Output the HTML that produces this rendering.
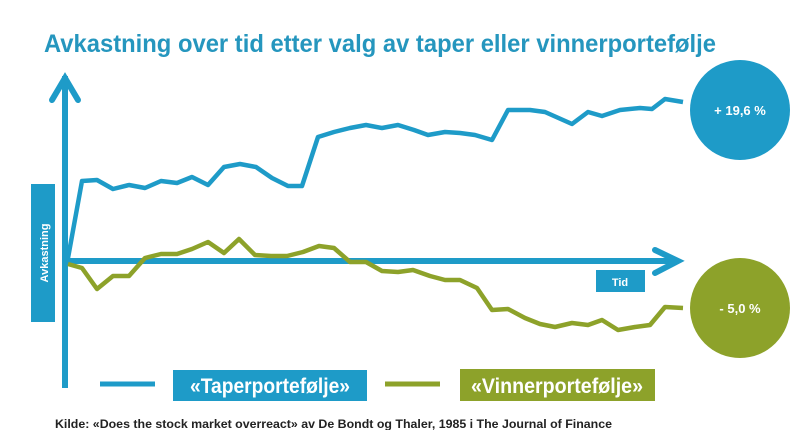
<!DOCTYPE html>
<html><head><meta charset="utf-8"><style>
html,body{margin:0;padding:0;background:#fff;width:800px;height:430px;overflow:hidden}
</style></head><body>
<svg width="800" height="430" xmlns="http://www.w3.org/2000/svg" font-family="Liberation Sans, sans-serif">
<rect width="800" height="430" fill="#fff"/>
<text x="44" y="52" font-size="25" font-weight="bold" fill="#2596BE" textLength="672" lengthAdjust="spacingAndGlyphs">Avkastning over tid etter valg av taper eller vinnerportefølje</text>
<line x1="65" y1="76" x2="65" y2="388" stroke="#1E9BC8" stroke-width="6"/>
<polyline points="52,100 65,78 78,100" fill="none" stroke="#1E9BC8" stroke-width="6" stroke-linecap="round" stroke-linejoin="miter"/>
<line x1="65" y1="261" x2="678" y2="261" stroke="#1E9BC8" stroke-width="6"/>
<polyline points="655,250 678,261 655,273" fill="none" stroke="#1E9BC8" stroke-width="6" stroke-linecap="round"/>
<rect x="31" y="184" width="24" height="138" fill="#1E9BC8"/>
<text transform="translate(48,253) rotate(-90)" text-anchor="middle" font-size="11" font-weight="bold" fill="#fff">Avkastning</text>
<rect x="596" y="270" width="49" height="22" fill="#1E9BC8"/>
<text x="620" y="286" text-anchor="middle" font-size="11" font-weight="bold" fill="#fff">Tid</text>
<polyline fill="none" stroke="#1E9BC8" stroke-width="4.5" stroke-linejoin="round" points="68,258 82,181 97,180 113,189 129,185 145,188 161,181 177,183 192,177 208,185 224,167 240,164 256,167 272,178 288,186 302,186 318,137 334,132 350,128 366,125 382,128 398,125 414,130 428,135 445,132 460,133 475,135 492,140 508,110 530,110 545,112 572,124 588,112 602,116 620,110 640,108 652,109 665,99 683,102"/>
<polyline fill="none" stroke="#8DA22A" stroke-width="4.5" stroke-linejoin="round" points="68,264 82,268 97,289 113,276 129,276 145,258 161,254 177,254 192,249 208,242 224,253 239,239 255,255 271,256 287,256 303,252 319,246 334,248 350,262 366,262 382,271 398,272 413,270 430,276 445,280 460,280 477,288 492,310 508,309 525,318 540,324 555,327 572,323 588,325 602,320 618,330 635,327 650,325 665,307 683,308"/>
<circle cx="740" cy="110" r="50" fill="#1E9BC8"/>
<text x="740" y="115" text-anchor="middle" font-size="13" font-weight="bold" fill="#fff">+ 19,6 %</text>
<circle cx="740" cy="308" r="50" fill="#8DA22A"/>
<text x="740" y="313" text-anchor="middle" font-size="13" font-weight="bold" fill="#fff">- 5,0 %</text>
<line x1="100" y1="384" x2="155" y2="384" stroke="#1E9BC8" stroke-width="5"/>
<rect x="173" y="370" width="194" height="31" fill="#1E9BC8"/>
<text x="270" y="393" text-anchor="middle" font-size="21" font-weight="bold" fill="#fff" textLength="160" lengthAdjust="spacingAndGlyphs">«Taperportefølje»</text>
<line x1="385" y1="384" x2="440" y2="384" stroke="#8DA22A" stroke-width="5"/>
<rect x="460" y="369" width="195" height="32" fill="#8DA22A"/>
<text x="557" y="393" text-anchor="middle" font-size="21" font-weight="bold" fill="#fff" textLength="172" lengthAdjust="spacingAndGlyphs">«Vinnerportefølje»</text>
<text x="55" y="428" font-size="11.5" font-weight="bold" fill="#222" textLength="557" lengthAdjust="spacingAndGlyphs">Kilde: «Does the stock market overreact» av De Bondt og Thaler, 1985 i  The Journal of Finance</text>
</svg>
</body></html>
